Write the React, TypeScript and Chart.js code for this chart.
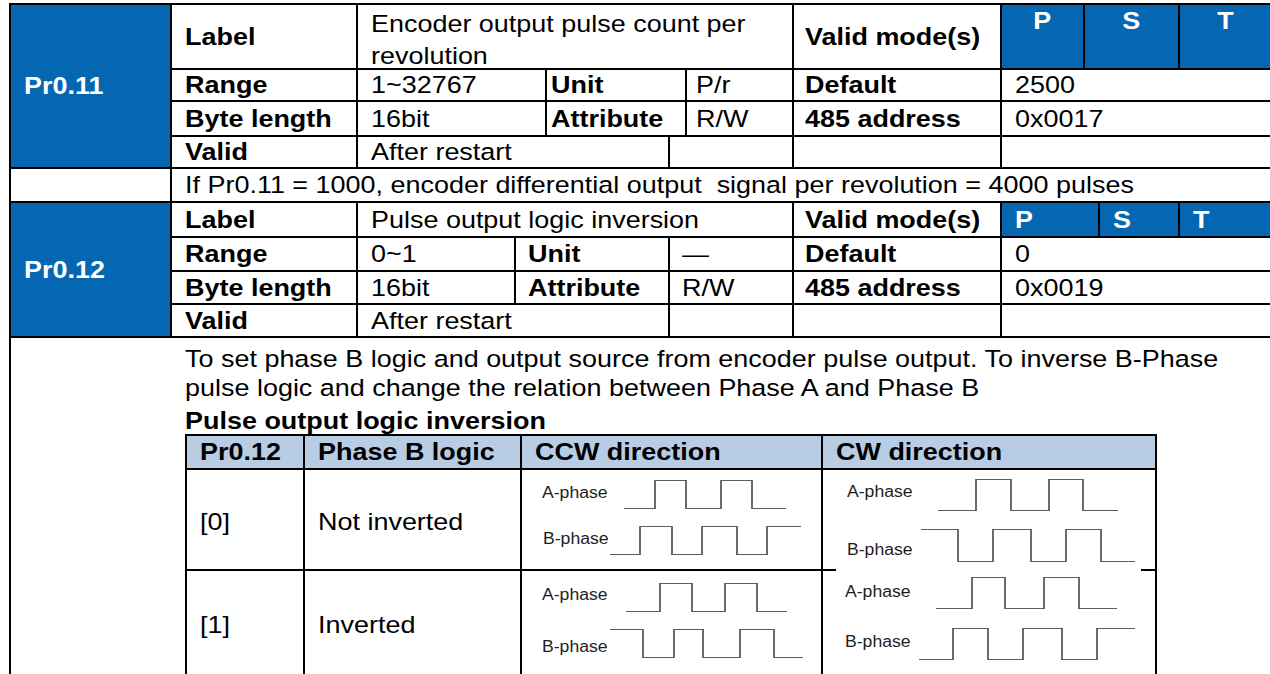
import React, { useEffect, useRef } from "react";
import { Chart, registerables } from "chart.js";
Chart.register(...registerables);

const FONT = '"Liberation Sans", Arial, Helvetica, sans-serif';
const BLUE = "#0567B2";
const HEAD_BG = "#B8CCE4";
const WAVE = "#5c5c5c";

// ---- text content ----
const p011Code = "Pr0.11";
const p011Label = ["Encoder output pulse count per", "revolution"];
const p011Row2 = ["Range", "1~32767", "Unit", "P/r", "Default", "2500"];
const p011Row3 = ["Byte length", "16bit", "Attribute", "R/W", "485 address", "0x0017"];
const p011Note = "If Pr0.11 = 1000, encoder differential output  signal per revolution = 4000 pulses";
const modes = ["P", "S", "T"];
const p012Code = "Pr0.12";
const p012Label = ["Pulse output logic inversion"];
const p012Row2 = ["Range", "0~1", "Unit", "\u2014", "Default", "0"];
const p012Row3 = ["Byte length", "16bit", "Attribute", "R/W", "485 address", "0x0019"];
const p012Desc = [
  "To set phase B logic and output source from encoder pulse output. To inverse B-Phase",
  "pulse logic and change the relation between Phase A and Phase B",
];
const p012SubTitle = "Pulse output logic inversion";
const logicHeaders = ["Pr0.12", "Phase B logic", "CCW direction", "CW direction"];
const logicValues = ["[0]", "[1]"];
const logicNames = ["Not inverted", "Inverted"];
const phaseNames = ["A-phase", "B-phase"];

// ---- waveform data: edge times (relative units) and logic levels ----
const ccw0A_t = [0, 31, 62, 97, 128, 162];
const ccw0A_v = [0, 1, 0, 1, 0, 0];
const ccw0B_t = [0, 30, 62, 92, 127, 157, 191];
const ccw0B_v = [0, 1, 0, 1, 0, 1, 1];
const ccw1A_t = [0, 34, 66, 99, 131, 161];
const ccw1A_v = [0, 1, 0, 1, 0, 0];
const ccw1B_t = [0, 33, 64, 93, 130, 164, 193];
const ccw1B_v = [1, 0, 1, 0, 1, 0, 0];
const cw0A_t = [0, 38, 73, 111, 145, 180];
const cw0A_v = [0, 1, 0, 1, 0, 0];
const cw0B_t = [0, 37, 72, 110, 145, 180, 214];
const cw0B_v = [1, 0, 1, 0, 1, 0, 0];
const cw1A_t = [0, 36, 69, 108, 143, 181];
const cw1A_v = [0, 1, 0, 1, 0, 0];
const cw1B_t = [0, 34, 69, 104, 143, 178, 216];
const cw1B_v = [0, 1, 0, 1, 0, 1, 1];

// ---- layout ----
const COLS1 = [10, 171, 357, 546, 686, 793, 1001, 1084, 1179, 1272];
const COLS2 = [10, 171, 357, 515, 669, 793, 1001, 1099, 1179, 1272];
const PADS1 = [15, 15, 6, 11, 13, 15];
const PADS2 = [15, 15, 14, 14, 13, 15];
const VALID_SPLIT = 669;
const ROWS1 = [4, 69, 101, 136, 168];
const ROWS2 = [202, 237, 271, 304, 337];
const LX = [186, 304, 521, 822, 1156];
const LY = [435, 469, 570, 680];
const FS = 24.5;

function Txt({ children, center }: { children: React.ReactNode; center?: boolean }) {
  return (
    <span
      style={{
        display: "inline-block",
        transform: "scaleX(1.1)",
        transformOrigin: center ? "center" : "left center",
        whiteSpace: "pre",
      }}
    >
      {children}
    </span>
  );
}

type CellProps = {
  x0: number;
  x1: number;
  y0: number;
  y1: number;
  bg?: string;
  pad?: number;
  bold?: boolean;
  color?: string;
  top?: boolean;
  center?: boolean;
  padTop?: number;
  lineHeight?: string;
  children?: React.ReactNode;
};

function Cell({ x0, x1, y0, y1, bg = "#fff", pad = 15, bold, color = "#000", top, center, padTop = 0, lineHeight = "normal", children }: CellProps) {
  return (
    <div
      style={{
        position: "absolute",
        left: x0 - 1,
        top: y0 - 1,
        width: x1 - x0 + 2,
        height: y1 - y0 + 2,
        boxSizing: "border-box",
        border: "2px solid #000",
        background: bg,
        display: "flex",
        flexDirection: "column",
        justifyContent: top ? "flex-start" : "center",
        alignItems: center ? "center" : "flex-start",
        paddingLeft: center ? 0 : pad - 2,
        paddingTop: padTop,
        fontWeight: bold ? 700 : 400,
        color,
        fontSize: FS,
        lineHeight,
        overflow: "hidden",
      }}
    >
      {children}
    </div>
  );
}

function ParamBlock({ rows, cols, pads, code, label, row2, row3, modesCentered }: any) {
  const [r0, r1, r2, r3, r4] = rows;
  const c = cols;
  const out: React.ReactNode[] = [];
  out.push(
    <Cell key="code" x0={c[0]} x1={c[1]} y0={r0} y1={r4} bg={BLUE} color="#fff" bold>
      <Txt>{code}</Txt>
    </Cell>
  );
  out.push(
    <Cell key="lab" x0={c[1]} x1={c[2]} y0={r0} y1={r1} bold>
      <Txt>Label</Txt>
    </Cell>
  );
  out.push(
    label.length > 1 ? (
      <Cell key="labv" x0={c[2]} x1={c[5]} y0={r0} y1={r1} top padTop={3} lineHeight="31.5px">
        {label.map((l: string, i: number) => (
          <Txt key={i}>{l}</Txt>
        ))}
      </Cell>
    ) : (
      <Cell key="labv" x0={c[2]} x1={c[5]} y0={r0} y1={r1}>
        <Txt>{label[0]}</Txt>
      </Cell>
    )
  );
  out.push(
    <Cell key="vm" x0={c[5]} x1={c[6]} y0={r0} y1={r1} bold pad={13}>
      <Txt>Valid mode(s)</Txt>
    </Cell>
  );
  modes.forEach((m, i) =>
    out.push(
      modesCentered ? (
        <Cell key={"m" + i} x0={c[6 + i]} x1={c[7 + i]} y0={r0} y1={r1} bg={BLUE} color="#fff" bold center top padTop={2} lineHeight="28px">
          <Txt center>{m}</Txt>
        </Cell>
      ) : (
        <Cell key={"m" + i} x0={c[6 + i]} x1={c[7 + i]} y0={r0} y1={r1} bg={BLUE} color="#fff" bold pad={15}>
          <Txt>{m}</Txt>
        </Cell>
      )
    )
  );
  const spans = [
    [1, 2],
    [2, 3],
    [3, 4],
    [4, 5],
    [5, 6],
    [6, 9],
  ];
  [row2, row3].forEach((row: string[], ri: number) => {
    const ya = ri === 0 ? r1 : r2;
    const yb = ri === 0 ? r2 : r3;
    row.forEach((txt, i) => {
      const bold = i === 0 || i === 2 || i === 4;
      out.push(
        <Cell key={"r" + ri + "_" + i} x0={c[spans[i][0]]} x1={c[spans[i][1]]} y0={ya} y1={yb} bold={bold} pad={pads[i]}>
          <Txt>{txt}</Txt>
        </Cell>
      );
    });
  });
  out.push(
    <Cell key="v0" x0={c[1]} x1={c[2]} y0={r3} y1={r4} bold>
      <Txt>Valid</Txt>
    </Cell>
  );
  out.push(
    <Cell key="v1" x0={c[2]} x1={VALID_SPLIT} y0={r3} y1={r4}>
      <Txt>After restart</Txt>
    </Cell>
  );
  out.push(<Cell key="v2" x0={VALID_SPLIT} x1={c[5]} y0={r3} y1={r4} />);
  out.push(<Cell key="v3" x0={c[5]} x1={c[6]} y0={r3} y1={r4} />);
  out.push(<Cell key="v4" x0={c[6]} x1={c[9]} y0={r3} y1={r4} />);
  return <>{out}</>;
}

function Wave({ t, v, left, top, height }: { t: number[]; v: number[]; left: number; top: number; height: number }) {
  const ref = useRef<HTMLCanvasElement>(null);
  const pad = 3;
  const width = t[t.length - 1] - t[0];
  useEffect(() => {
    const chart = new Chart(ref.current as HTMLCanvasElement, {
      type: "line",
      data: {
        datasets: [
          {
            data: t.map((x, i) => ({ x, y: v[i] })),
            stepped: "before",
            borderColor: WAVE,
            borderWidth: 1.8,
            pointRadius: 0,
            fill: false,
            tension: 0,
          },
        ],
      },
      options: {
        animation: false,
        responsive: false,
        maintainAspectRatio: false,
        events: [],
        layout: { padding: pad },
        plugins: { legend: { display: false }, tooltip: { enabled: false } },
        scales: {
          x: { type: "linear", display: false, min: t[0], max: t[t.length - 1] },
          y: { type: "linear", display: false, min: 0, max: 1 },
        },
      },
    });
    return () => chart.destroy();
  }, []);
  return (
    <canvas
      ref={ref}
      width={width + pad * 2}
      height={height + pad * 2}
      style={{ position: "absolute", left: left - pad, top: top - pad, width: width + pad * 2, height: height + pad * 2 }}
    />
  );
}

function PhaseLabel({ x, cy, text }: { x: number; cy: number; text: string }) {
  return (
    <div style={{ position: "absolute", left: x - 1, top: cy - 10, lineHeight: "20px", fontSize: 16, color: "#1e1e1e", whiteSpace: "pre" }}>
      <Txt>{text}</Txt>
    </div>
  );
}

export default function App() {
  return (
    <div
      style={{
        position: "absolute",
        left: 0,
        top: 0,
        width: 1270,
        height: 674,
        overflow: "hidden",
        background: "#fff",
        fontFamily: FONT,
      }}
    >
      <ParamBlock rows={ROWS1} cols={COLS1} pads={PADS1} code={p011Code} label={p011Label} row2={p011Row2} row3={p011Row3} modesCentered />
      <Cell x0={COLS1[0]} x1={COLS1[1]} y0={ROWS1[4]} y1={ROWS2[0]} />
      <Cell x0={COLS1[1]} x1={COLS1[9]} y0={ROWS1[4]} y1={ROWS2[0]}>
        <Txt>{p011Note}</Txt>
      </Cell>
      <ParamBlock rows={ROWS2} cols={COLS2} pads={PADS2} code={p012Code} label={p012Label} row2={p012Row2} row3={p012Row3} />
      {/* description cell */}
      <Cell x0={COLS2[0]} x1={COLS2[9]} y0={ROWS2[4]} y1={LY[3]} top padTop={6} pad={176} lineHeight="29px">
        <Txt>{p012Desc[0]}</Txt>
        <Txt>{p012Desc[1]}</Txt>
        <span style={{ fontWeight: 700, marginTop: 4 }}>
          <Txt>{p012SubTitle}</Txt>
        </span>
      </Cell>
      {/* logic table */}
      {logicHeaders.map((h, i) => (
        <Cell key={"h" + i} x0={LX[i]} x1={LX[i + 1]} y0={LY[0]} y1={LY[1]} bg={HEAD_BG} bold>
          <Txt>{h}</Txt>
        </Cell>
      ))}
      {logicValues.map((val, r) => (
        <React.Fragment key={"row" + r}>
          <Cell x0={LX[0]} x1={LX[1]} y0={LY[1 + r]} y1={LY[2 + r]} padTop={r === 0 ? 5 : 0}>
            <Txt>{val}</Txt>
          </Cell>
          <Cell x0={LX[1]} x1={LX[2]} y0={LY[1 + r]} y1={LY[2 + r]} padTop={r === 0 ? 5 : 0}>
            <Txt>{logicNames[r]}</Txt>
          </Cell>
          <Cell x0={LX[2]} x1={LX[3]} y0={LY[1 + r]} y1={LY[2 + r]} />
          <Cell x0={LX[3]} x1={LX[4]} y0={LY[1 + r]} y1={LY[2 + r]} />
        </React.Fragment>
      ))}
      {/* white picture background in CW column */}
      <div style={{ position: "absolute", left: 836, top: 471, width: 305, height: 230, background: "#fff" }} />

      {/* CCW [0] */}
      <PhaseLabel x={543} cy={493} text={phaseNames[0]} />
      <PhaseLabel x={544} cy={539} text={phaseNames[1]} />
      <Wave t={ccw0A_t} v={ccw0A_v} left={624} top={480} height={29} />
      <Wave t={ccw0B_t} v={ccw0B_v} left={610} top={526} height={29} />
      {/* CCW [1] */}
      <PhaseLabel x={543} cy={595} text={phaseNames[0]} />
      <PhaseLabel x={543} cy={647} text={phaseNames[1]} />
      <Wave t={ccw1A_t} v={ccw1A_v} left={626} top={583} height={29} />
      <Wave t={ccw1B_t} v={ccw1B_v} left={610} top={629} height={29} />
      {/* CW [0] */}
      <PhaseLabel x={848} cy={492} text={phaseNames[0]} />
      <PhaseLabel x={848} cy={550} text={phaseNames[1]} />
      <Wave t={cw0A_t} v={cw0A_v} left={938} top={479} height={32} />
      <Wave t={cw0B_t} v={cw0B_v} left={921} top={529} height={33} />
      {/* CW [1] */}
      <PhaseLabel x={846} cy={592} text={phaseNames[0]} />
      <PhaseLabel x={846} cy={642} text={phaseNames[1]} />
      <Wave t={cw1A_t} v={cw1A_v} left={936} top={577} height={32} />
      <Wave t={cw1B_t} v={cw1B_v} left={919} top={628} height={32} />
    </div>
  );
}
